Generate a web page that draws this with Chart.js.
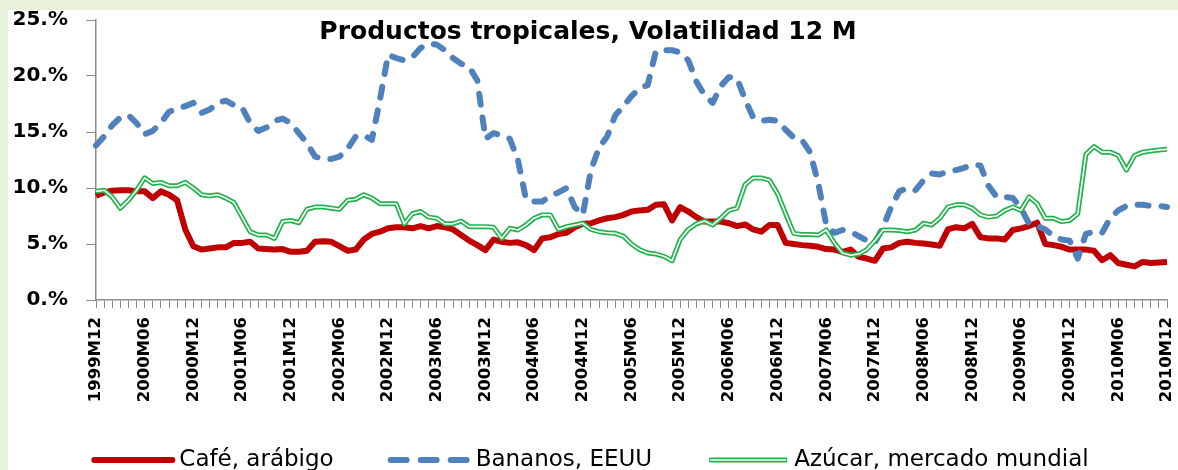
<!DOCTYPE html>
<html>
<head>
<meta charset="utf-8">
<title>Productos tropicales, Volatilidad 12 M</title>
<script src="https://cdn.jsdelivr.net/npm/chart.js@4.4.0/dist/chart.umd.min.js"></script>
<style>
  html, body { margin: 0; padding: 0; overflow: hidden; background: #e7f1db; }
  #wrap { position: absolute; left: 8px; top: 10px; width: 1170px; height: 470px; background: #fff; }
</style>
</head>
<body>
<div id="wrap"><canvas id="volChart" width="1170" height="470"></canvas></div>
<script>
// ---- Data (monthly, 1999M12 .. 2010M12), volatility in % ----
const startYear = 1999, startMonth = 12, nMonths = 133;
const months = [];
for (let i = 0; i < nMonths; i++) {
  const t = startYear * 12 + (startMonth - 1) + i;
  months.push(Math.floor(t / 12) + 'M' + String(t % 12 + 1).padStart(2, '0'));
}

const yTicks = [0, 5, 10, 15, 20, 25];

const cafe = [
  9.3, 9.6, 9.75, 9.8, 9.8, 9.7, 9.7, 9.1, 9.7, 9.4,
  8.9, 6.3, 4.8, 4.5, 4.6, 4.7, 4.7, 5.1, 5.1, 5.2,
  4.6, 4.55, 4.5, 4.55, 4.3, 4.3, 4.4, 5.2, 5.25, 5.2,
  4.8, 4.4, 4.5, 5.4, 5.9, 6.1, 6.4, 6.5, 6.5, 6.4,
  6.6, 6.4, 6.6, 6.5, 6.3, 5.8, 5.3, 4.9, 4.45, 5.4,
  5.2, 5.1, 5.15, 4.9, 4.45, 5.5, 5.6, 5.9, 6.0, 6.5,
  6.8, 6.85, 7.1, 7.3, 7.4, 7.6, 7.9, 8.0, 8.05, 8.5,
  8.55, 7.1, 8.3, 7.9, 7.4, 7.0, 7.0, 7.0, 6.85, 6.6,
  6.75, 6.3, 6.1, 6.7, 6.7, 5.1, 5.0, 4.9, 4.85, 4.75,
  4.55, 4.5, 4.3, 4.5, 3.85, 3.7, 3.5, 4.6, 4.7, 5.1,
  5.2, 5.1, 5.05, 4.95, 4.85, 6.3, 6.5, 6.4, 6.8, 5.6,
  5.5, 5.5, 5.4, 6.25, 6.4, 6.6, 6.9, 5.0, 4.9, 4.75,
  4.5, 4.5, 4.5, 4.4, 3.55, 4.0, 3.3, 3.15, 3.0, 3.4,
  3.3, 3.35, 3.4
];

const bananos = [
  13.8, 14.6, 15.6, 16.3, 16.5, 15.8, 14.8, 15.1, 15.8, 16.8,
  17.1, 17.3, 17.6, 16.7, 17.0, 17.6, 17.8, 17.4, 17.2, 15.8,
  15.1, 15.4, 16.0, 16.2, 15.8, 14.9, 14.0, 12.8, 12.6, 12.6,
  12.8, 13.5, 14.6, 14.7, 14.3, 17.9, 21.9, 21.6, 21.4, 21.7,
  22.5, 22.9, 22.8, 22.3, 21.6, 21.1, 20.8, 19.6, 14.4, 14.9,
  14.7, 14.4, 12.5, 9.0, 8.8, 8.8, 9.3, 9.6, 10.0, 8.3,
  7.6, 11.6, 13.6, 14.6, 16.5, 17.3, 18.2, 18.9, 19.2, 22.2,
  22.3, 22.3, 22.1, 21.4, 19.5, 18.3, 17.6, 19.1, 19.9, 19.8,
  17.9, 16.3, 16.0, 16.1, 16.0, 15.2, 14.5, 14.3, 13.2, 10.5,
  6.7, 6.0, 6.25, 6.1, 5.7, 5.3, 5.1, 6.5, 8.3, 9.7,
  10.0, 9.8, 10.7, 11.3, 11.2, 11.5, 11.6, 11.8, 12.1, 12.0,
  10.2, 9.2, 9.2, 9.1, 8.2, 6.8, 6.6, 6.3, 5.7, 5.4,
  5.3, 3.7, 5.9, 6.1, 6.0, 7.3, 8.0, 8.4, 8.5, 8.5,
  8.4, 8.4, 8.3
];

const azucar = [
  9.7, 9.8, 9.2, 8.2, 8.9, 9.8, 10.9, 10.4, 10.5, 10.2,
  10.2, 10.5, 10.0, 9.4, 9.3, 9.4, 9.1, 8.7, 7.4, 6.1,
  5.8, 5.8, 5.5, 7.0, 7.1, 6.9, 8.1, 8.3, 8.3, 8.2,
  8.1, 8.9, 9.0, 9.4, 9.1, 8.6, 8.6, 8.6, 6.8, 7.7,
  7.9, 7.4, 7.3, 6.8, 6.8, 7.05, 6.55, 6.55, 6.55, 6.5,
  5.5, 6.4, 6.25, 6.7, 7.3, 7.6, 7.6, 6.3, 6.55, 6.7,
  6.85, 6.3, 6.1, 6.0, 5.95, 5.7, 5.0, 4.5, 4.2, 4.1,
  3.9, 3.5, 5.4, 6.3, 6.8, 7.05, 6.7, 7.3, 8.0, 8.2,
  10.3, 10.9, 10.9, 10.7, 9.5, 7.7, 5.95, 5.85, 5.85, 5.8,
  6.25, 5.1, 4.2, 4.0, 4.1, 4.5, 5.3, 6.25, 6.25, 6.2,
  6.1, 6.25, 6.85, 6.7, 7.3, 8.3, 8.5, 8.5, 8.2, 7.6,
  7.4, 7.5, 8.0, 8.3, 8.0, 9.2, 8.6, 7.3, 7.3, 7.0,
  7.1, 7.7, 13.0, 13.7, 13.2, 13.2, 12.9, 11.6, 12.9, 13.2,
  13.3, 13.4, 13.45
];

// ---- Styles ----
const RED = '#c00000';
const BLUE = '#4f81bd';
const GREEN = '#22b24c';
const AXIS_GRAY = '#8c8c8c';
const FONT = 'DejaVu Sans';

Chart.defaults.font.family = FONT;
Chart.defaults.color = '#000';

const legendStyle = [
  { width: 6, dash: [], cap: 'round' },
  { width: 6, dash: [16, 14], cap: 'round' },
  { width: 5, dash: [], cap: 'butt', core: true }
];

// Title inside the plot area + legend row along the bottom edge
const overlayPlugin = {
  id: 'overlay',
  afterDraw(chart) {
    const ctx = chart.ctx;
    ctx.save();
    ctx.font = 'bold 25px "' + FONT + '"';
    ctx.fillStyle = '#000';
    ctx.textAlign = 'center';
    ctx.textBaseline = 'alphabetic';
    ctx.fillText('Productos tropicales, Volatilidad 12 M', 580, 29);

    // legend
    const items = chart.data.datasets.slice(0, 3);
    const sample = 84, gapText = 4, gapItem = 54, cy = 450;
    ctx.font = '23px "' + FONT + '"';
    const widths = items.map(ds => sample + gapText + ctx.measureText(ds.label).width);
    const total = widths.reduce((a, b) => a + b, 0) + gapItem * (items.length - 1);
    let x = 582 - total / 2;
    items.forEach((ds, i) => {
      const st = legendStyle[i];
      ctx.beginPath();
      ctx.setLineDash(st.dash);
      ctx.lineCap = st.cap;
      ctx.lineWidth = st.width;
      ctx.strokeStyle = ds.borderColor;
      ctx.moveTo(x + 3, cy);
      ctx.lineTo(x + sample - 3, cy);
      ctx.stroke();
      if (st.core) {
        ctx.beginPath();
        ctx.lineWidth = 1.6;
        ctx.strokeStyle = '#fff';
        ctx.moveTo(x + 4, cy);
        ctx.lineTo(x + sample - 4, cy);
        ctx.stroke();
      }
      ctx.setLineDash([]);
      ctx.fillStyle = '#000';
      ctx.textAlign = 'left';
      ctx.textBaseline = 'middle';
      ctx.fillText(ds.label, x + sample + gapText, cy);
      x += widths[i] + gapItem;
    });
    ctx.restore();
  }
};

// drop the label overhang padding so the plot area sits where the axes say
function noOverhang(scale) {
  scale.paddingTop = 0;
  scale.paddingBottom = 0;
  scale.paddingLeft = 0;
  scale.paddingRight = 0;
}

new Chart(document.getElementById('volChart'), {
  type: 'line',
  data: {
    labels: months,
    datasets: [
      {
        label: 'Café, arábigo',
        data: cafe,
        borderColor: RED,
        backgroundColor: RED,
        borderWidth: 6,
        order: 4
      },
      {
        label: 'Bananos, EEUU',
        data: bananos,
        borderColor: BLUE,
        backgroundColor: BLUE,
        borderWidth: 6,
        borderDash: [11, 13],
        borderCapStyle: 'round',
        order: 3
      },
      {
        label: 'Azúcar, mercado mundial',
        data: azucar,
        borderColor: GREEN,
        backgroundColor: GREEN,
        borderWidth: 5,
        order: 2
      },
      {
        // white core of the double line
        label: 'azucar-core',
        data: azucar,
        borderColor: '#ffffff',
        borderWidth: 1.6,
        order: 1
      }
    ]
  },
  options: {
    responsive: false,
    animation: false,
    layout: { padding: { top: 10, right: 11, bottom: 60, left: 0 } },
    elements: {
      point: { radius: 0, hoverRadius: 0 },
      line: { tension: 0, borderJoinStyle: 'round', fill: false }
    },
    plugins: {
      tooltip: { enabled: false },
      title: { display: false },
      legend: { display: false }
    },
    scales: {
      x: {
        type: 'category',
        offset: false,
        border: { color: AXIS_GRAY, width: 1.5 },
        grid: { drawOnChartArea: false, drawTicks: true, tickLength: 8, color: AXIS_GRAY, offset: false },
        ticks: {
          autoSkip: false,
          maxRotation: 90,
          minRotation: 90,
          padding: 9,
          color: '#000',
          font: { family: FONT, size: 16.5, weight: 'bold' },
          callback(value, index) { return index % 6 === 0 ? months[index] : ''; }
        },
        afterFit(scale) { scale.height = 120; noOverhang(scale); }
      },
      y: {
        min: yTicks[0],
        max: yTicks[yTicks.length - 1],
        border: { color: AXIS_GRAY, width: 1.5 },
        grid: { drawOnChartArea: false, drawTicks: true, tickLength: 10, color: AXIS_GRAY },
        afterBuildTicks(scale) { scale.ticks = yTicks.map(v => ({ value: v })); },
        ticks: {
          padding: 18,
          color: '#000',
          font: { family: FONT, size: 20, weight: 'bold' },
          callback(v) { return v + '.%'; }
        },
        afterFit(scale) { scale.width = 88; noOverhang(scale); }
      }
    }
  },
  plugins: [overlayPlugin]
});
</script>
</body>
</html>
